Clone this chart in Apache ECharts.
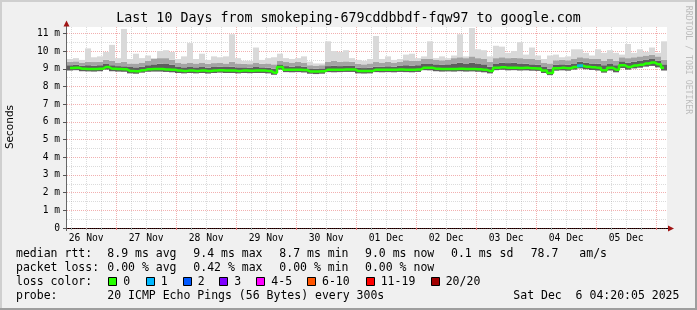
<!DOCTYPE html>
<html>
<head>
<meta charset="utf-8">
<title>smokeping google.com</title>
<script src="https://cdn.jsdelivr.net/npm/echarts@6/dist/echarts.min.js"></script>
<style>
    html, body { margin: 0; padding: 0; background: #f0f0f0; }
    #chart { width: 697px; height: 310px; }
</style>
</head>
<body>
<div id="chart"></div>
<script>
document.addEventListener('DOMContentLoaded', function() {

    const chartDom = document.getElementById('chart');
    const myChart = echarts.init(chartDom, null, { renderer: 'canvas' });

    // time window: 10 days ending Sat Dec 6 04:20:05, hours counted from Nov 26 00:00
    const startHour = 4 + 20 / 60 + 5 / 3600;
    const spanHours = 240;
    const dayLabels = ['26 Nov', '27 Nov', '28 Nov', '29 Nov', '30 Nov',
                       '01 Dec', '02 Dec', '03 Dec', '04 Dec', '05 Dec'];
    const yTicks = [0, 1, 2, 3, 4, 5, 6, 7, 8, 9, 10, 11];
    const yMax = 11.36;

    // 100 slots of 2.4 h each, values in ms
    const median = [
        9.04, 9.06, 9.00, 8.98, 8.98, 9.00, 9.10, 9.00, 8.98, 8.97,
        8.88, 8.86, 8.92, 8.97, 8.98, 8.98, 8.96, 8.95, 8.90, 8.88,
        8.90, 8.88, 8.90, 8.87, 8.90, 8.92, 8.90, 8.90, 8.88, 8.90,
        8.89, 8.90, 8.90, 8.88, 8.78, 9.10, 8.95, 8.94, 8.95, 8.93,
        8.85, 8.84, 8.86, 8.95, 8.94, 8.95, 8.96, 8.96, 8.88, 8.87,
        8.88, 8.95, 8.94, 8.95, 8.94, 8.96, 8.95, 8.94, 8.96, 9.06,
        9.05, 9.00, 8.98, 8.99, 8.98, 9.00, 8.98, 8.99, 8.97, 8.94,
        8.88, 9.06, 9.08, 9.05, 9.06, 9.04, 9.05, 9.03, 9.02, 8.90,
        8.76, 9.03, 9.05, 9.03, 9.10, 9.17, 9.12, 9.08, 9.05, 8.92,
        9.05, 8.95, 9.20, 9.10, 9.18, 9.22, 9.30, 9.35, 9.25, 9.05
    ];
    const smokeLow = [
        8.90, 8.92, 8.86, 8.85, 8.84, 8.86, 8.95, 8.86, 8.84, 8.83,
        8.74, 8.72, 8.78, 8.83, 8.84, 8.84, 8.82, 8.80, 8.76, 8.74,
        8.76, 8.74, 8.76, 8.73, 8.76, 8.78, 8.76, 8.76, 8.74, 8.76,
        8.75, 8.76, 8.76, 8.74, 8.66, 8.95, 8.81, 8.80, 8.81, 8.79,
        8.72, 8.70, 8.72, 8.81, 8.80, 8.81, 8.82, 8.82, 8.74, 8.73,
        8.74, 8.81, 8.80, 8.81, 8.80, 8.82, 8.81, 8.80, 8.82, 8.92,
        8.91, 8.86, 8.84, 8.85, 8.84, 8.86, 8.84, 8.85, 8.83, 8.80,
        8.74, 8.92, 8.94, 8.91, 8.92, 8.90, 8.91, 8.89, 8.88, 8.76,
        8.64, 8.89, 8.91, 8.89, 8.95, 9.02, 8.97, 8.93, 8.90, 8.78,
        8.90, 8.80, 9.04, 8.95, 9.02, 9.06, 9.12, 9.16, 9.08, 8.90
    ];
    const smokeDark = [
        9.20, 9.22, 9.18, 9.20, 9.18, 9.20, 9.30, 9.20, 9.15, 9.14,
        9.10, 9.08, 9.12, 9.20, 9.25, 9.28, 9.30, 9.22, 9.10, 9.08,
        9.10, 9.08, 9.10, 9.06, 9.10, 9.12, 9.10, 9.12, 9.08, 9.08,
        9.06, 9.10, 9.08, 9.06, 9.00, 9.25, 9.15, 9.12, 9.15, 9.12,
        9.02, 9.00, 9.02, 9.15, 9.18, 9.15, 9.16, 9.16, 9.05, 9.04,
        9.06, 9.12, 9.12, 9.14, 9.12, 9.16, 9.20, 9.18, 9.20, 9.30,
        9.30, 9.25, 9.22, 9.25, 9.30, 9.35, 9.30, 9.35, 9.30, 9.25,
        9.12, 9.30, 9.35, 9.32, 9.35, 9.30, 9.28, 9.25, 9.22, 9.10,
        9.00, 9.22, 9.25, 9.22, 9.30, 9.40, 9.35, 9.30, 9.28, 9.20,
        9.30, 9.20, 9.42, 9.35, 9.40, 9.45, 9.50, 9.55, 9.45, 9.25
    ];
    const smokeMid = [
        9.40, 9.42, 9.35, 9.40, 9.38, 9.40, 9.50, 9.45, 9.35, 9.40,
        9.30, 9.30, 9.35, 9.45, 9.55, 9.60, 9.60, 9.50, 9.35, 9.30,
        9.35, 9.30, 9.35, 9.28, 9.32, 9.35, 9.30, 9.40, 9.30, 9.28,
        9.26, 9.35, 9.28, 9.30, 9.25, 9.45, 9.38, 9.35, 9.40, 9.35,
        9.20, 9.18, 9.20, 9.40, 9.45, 9.40, 9.42, 9.40, 9.28, 9.25,
        9.30, 9.38, 9.35, 9.40, 9.35, 9.40, 9.48, 9.45, 9.45, 9.55,
        9.55, 9.50, 9.48, 9.50, 9.60, 9.65, 9.60, 9.70, 9.60, 9.55,
        9.40, 9.60, 9.65, 9.60, 9.62, 9.60, 9.55, 9.55, 9.50, 9.35,
        9.30, 9.48, 9.50, 9.48, 9.55, 9.65, 9.60, 9.55, 9.55, 9.45,
        9.55, 9.45, 9.65, 9.60, 9.65, 9.70, 9.75, 9.80, 9.70, 9.50
    ];
    const smokeMax = [
        9.55, 9.60, 9.50, 10.15, 9.65, 9.70, 9.95, 10.35, 9.60, 11.25,
        9.55, 9.85, 9.60, 9.75, 9.60, 10.00, 10.05, 9.95, 9.55, 9.70,
        10.45, 9.55, 9.85, 9.50, 9.70, 9.65, 9.70, 10.95, 9.60, 9.45,
        9.45, 10.20, 9.50, 9.60, 9.65, 9.85, 9.60, 9.55, 9.60, 9.70,
        9.40, 9.30, 9.30, 10.55, 10.00, 9.95, 10.05, 9.60, 9.50, 9.45,
        9.55, 10.85, 9.55, 9.70, 9.50, 9.55, 9.80, 9.85, 9.60, 9.70,
        10.55, 9.60, 9.70, 9.60, 9.75, 10.95, 9.70, 11.30, 10.10, 10.05,
        9.70, 10.30, 10.25, 9.90, 10.00, 10.50, 9.80, 10.20, 9.75, 9.55,
        9.75, 9.80, 9.65, 9.70, 10.10, 10.10, 9.90, 9.75, 10.10, 9.90,
        10.05, 9.90, 9.80, 10.40, 9.90, 10.10, 9.95, 10.20, 9.90, 10.55
    ];
    // lost pings per slot (of 20)
    const lossPings = [
        0, 0, 0, 0, 0, 0, 0, 0, 0, 0,
        0, 0, 0, 0, 0, 0, 0, 0, 0, 0,
        0, 0, 0, 0, 0, 0, 0, 0, 0, 0,
        0, 0, 0, 0, 0, 0, 0, 0, 0, 0,
        0, 0, 0, 0, 0, 0, 0, 0, 0, 0,
        0, 0, 0, 0, 0, 0, 0, 0, 0, 0,
        0, 0, 0, 0, 0, 0, 0, 0, 0, 0,
        0, 0, 0, 0, 0, 0, 0, 0, 0, 0,
        0, 0, 0, 0, 0, 1, 0, 0, 0, 0,
        0, 0, 0, 0, 0, 0, 0, 0, 0, 0
    ];

    const lossLabels = ['0', '1', '2', '3', '4-5', '6-10', '11-19', '20/20'];
    const lossColors = ['#26ff00', '#00b8ff', '#0059ff', '#7e00ff', '#ff00ff', '#ff5500', '#ff0000', '#a10000'];
    const lossUpper = [0, 1, 2, 3, 5, 10, 19, 20];

    const rttStats = ['8.9 ms avg', '9.4 ms max', '8.7 ms min', '9.0 ms now', '0.1 ms sd'];
    const lossStats = ['0.00 % avg', '0.42 % max', '0.00 % min', '0.00 % now'];
    const amsValue = '78.7';
    const probeText = '20 ICMP Echo Pings (56 Bytes) every 300s';
    const dateText = 'Sat Dec  6 04:20:05 2025';
    const titleText = 'Last 10 Days from smokeping-679cddbbdf-fqw97 to google.com';

    // grid lines / labels positions (hours)
    const minorHours = [], majorHours = [], noonHours = [];
    for (let h = 6; h < startHour + spanHours; h += 6) {
        if (h <= startHour) continue;
        if (h % 24 === 0) majorHours.push(h); else minorHours.push(h);
    }
    dayLabels.forEach((d, i) => noonHours.push(12 + 24 * i));
    const yMinor = yTicks.slice(0, -1).map(v => v + 0.5);

    const mono = 'DejaVu Sans Mono';
    const gridLeft = 67, gridTop = 27, gridW = 600, gridH = 201;
    const gridBottom = gridTop + gridH;

    const lossColorFor = n => lossColors[lossUpper.findIndex(u => n <= u)];
    const lossPoints = [];
    lossPings.forEach((n, i) => {
        if (n > 0) lossPoints.push({ value: [i, median[i]], itemStyle: { color: lossColorFor(n) } });
    });

    const slots = median.map((_, i) => i);
    const diff = (a, b) => a.map((v, i) => +(v - b[i]).toFixed(3));

    // legend / decoration graphics
    const graphics = [];
    const txt = (x, y, text, extra) => Object.assign({
        type: 'text', x: x, y: y, silent: true,
        style: Object.assign({ text: text, font: '11.5px "' + mono + '"', fill: '#000',
            align: 'left', verticalAlign: 'middle', textAlign: 'left', textVerticalAlign: 'middle' }, extra || {})
    });

    // frame shading
    graphics.push({ type: 'rect', shape: { x: 0, y: 0, width: 697, height: 2 }, style: { fill: '#cfcfcf' } });
    graphics.push({ type: 'rect', shape: { x: 0, y: 0, width: 2, height: 310 }, style: { fill: '#cfcfcf' } });
    graphics.push({ type: 'rect', shape: { x: 0, y: 308, width: 697, height: 2 }, style: { fill: '#9e9e9e' } });
    graphics.push({ type: 'rect', shape: { x: 695, y: 0, width: 2, height: 310 }, style: { fill: '#9e9e9e' } });

    graphics.push(txt(348.5, 19, titleText, { font: '13.3px "' + mono + '"', align: 'center', textAlign: 'center' }));
    graphics.push({
        type: 'text', x: 10, y: 127, rotation: Math.PI / 2, silent: true,
        style: { text: 'Seconds', font: '10.5px "DejaVu Sans"', fill: '#000',
            align: 'center', verticalAlign: 'middle', textAlign: 'center', textVerticalAlign: 'middle' }
    });
    graphics.push({
        type: 'text', x: 688.5, y: 60, rotation: -Math.PI / 2, silent: true,
        style: { text: 'RRDTOOL / TOBI OETIKER', font: '8.2px "' + mono + '"', fill: '#bdbdbd',
            align: 'center', verticalAlign: 'middle', textAlign: 'center', textVerticalAlign: 'middle' }
    });

    // axes lines + arrows
    graphics.push({ type: 'line', silent: true, shape: { x1: 66.5, y1: gridBottom + 3, x2: 66.5, y2: 24 },
        style: { stroke: '#666', lineWidth: 1 } });
    graphics.push({ type: 'line', silent: true, shape: { x1: 63, y1: gridBottom + 0.5, x2: 669, y2: gridBottom + 0.5 },
        style: { stroke: '#000', lineWidth: 1 } });
    graphics.push({ type: 'polygon', silent: true, shape: { points: [[63.5, 26.5], [66.5, 20.5], [69.5, 26.5]] },
        style: { fill: '#a01515' } });
    graphics.push({ type: 'polygon', silent: true,
        shape: { points: [[668, gridBottom - 2.5], [674, gridBottom + 0.5], [668, gridBottom + 3.5]] },
        style: { fill: '#a01515' } });

    const statCols = [107.3, 193.3, 279.3, 365, 451];
    const rows = [254.3, 268.3, 282.3, 296];
    graphics.push(txt(16, rows[0], 'median rtt:'));
    rttStats.forEach((s, i) => graphics.push(txt(statCols[i], rows[0], s)));
    graphics.push(txt(530.7, rows[0], amsValue));
    graphics.push(txt(579.3, rows[0], 'am/s'));

    graphics.push(txt(16, rows[1], 'packet loss:'));
    lossStats.forEach((s, i) => graphics.push(txt(statCols[i], rows[1], s)));

    graphics.push(txt(16, rows[2], 'loss color:'));
    const boxX = [108.3, 145.7, 182.7, 219.3, 256.3, 307, 365.7, 430.7];
    lossLabels.forEach((l, i) => {
        graphics.push({ type: 'rect', silent: true,
            shape: { x: Math.round(boxX[i]) + 0.5, y: rows[2] - 4.8, width: 8, height: 8 },
            style: { fill: lossColors[i], stroke: '#000', lineWidth: 1 } });
        graphics.push(txt(boxX[i] + 15, rows[2], l));
    });

    graphics.push(txt(16, rows[3], 'probe:'));
    graphics.push(txt(107.3, rows[3], probeText));
    graphics.push(txt(513.3, rows[3], dateText));

    const redGrid = { color: 'rgba(222,48,48,0.38)', width: 1, type: [1, 1] };
    const greyGrid = { color: 'rgba(143,143,143,0.32)', width: 1, type: [1, 1] };

    const option = {
        animation: false,
        backgroundColor: '#f0f0f0',
        grid: {
            left: gridLeft, top: gridTop, width: gridW, height: gridH,
            show: true, backgroundColor: '#ffffff', borderWidth: 0,
            containLabel: false, outerBoundsMode: 'none'
        },
        xAxis: [
            { type: 'category', data: slots, show: false, boundaryGap: true },
            {
                type: 'value', min: startHour, max: startHour + spanHours, position: 'bottom',
                axisLine: { show: false },
                axisTick: { show: true, customValues: minorHours, length: 2, lineStyle: { color: '#aaa' } },
                axisLabel: { show: false },
                splitLine: { show: true, lineStyle: greyGrid }
            },
            {
                type: 'value', min: startHour, max: startHour + spanHours, position: 'bottom',
                axisLine: { show: false },
                axisTick: { show: true, customValues: majorHours, length: 2, lineStyle: { color: '#e08080' } },
                axisLabel: {
                    customValues: noonHours, margin: 5,
                    fontFamily: mono, fontSize: 9.7, color: '#000',
                    formatter: v => dayLabels[Math.round((v - 12) / 24)]
                },
                splitLine: { show: true, lineStyle: redGrid }
            }
        ],
        yAxis: [
            {
                type: 'value', min: 0, max: yMax, position: 'left',
                axisLine: { show: false },
                axisTick: { show: false, customValues: yMinor },
                axisLabel: { show: false },
                splitLine: { show: true, lineStyle: greyGrid }
            },
            {
                type: 'value', min: 0, max: yMax, position: 'left',
                axisLine: { show: false },
                axisTick: { show: true, customValues: yTicks, length: 4, lineStyle: { color: '#555' } },
                axisLabel: {
                    customValues: yTicks, margin: 7,
                    fontFamily: mono, fontSize: 9.6, color: '#000',
                    formatter: v => (v === 0 ? '0' : v + ' m')
                },
                splitLine: { show: true, lineStyle: redGrid }
            }
        ],
        series: [
            {
                name: 'base', type: 'bar', stack: 'smoke', xAxisIndex: 0, yAxisIndex: 1,
                data: smokeLow, barCategoryGap: '0%', silent: true,
                itemStyle: { color: 'rgba(0,0,0,0)' }
            },
            {
                name: 'dark', type: 'bar', stack: 'smoke', xAxisIndex: 0, yAxisIndex: 1,
                data: diff(smokeDark, smokeLow), silent: true,
                itemStyle: { color: '#5e5e5e' }
            },
            {
                name: 'mid', type: 'bar', stack: 'smoke', xAxisIndex: 0, yAxisIndex: 1,
                data: diff(smokeMid, smokeDark), silent: true,
                itemStyle: { color: '#a4a4a4' }
            },
            {
                name: 'light', type: 'bar', stack: 'smoke', xAxisIndex: 0, yAxisIndex: 1,
                data: diff(smokeMax, smokeMid), silent: true,
                itemStyle: { color: '#d9d9d9' }
            },
            {
                name: 'median rtt', type: 'line', xAxisIndex: 0, yAxisIndex: 1,
                data: median, step: 'middle', showSymbol: false, silent: true, z: 5,
                lineStyle: { color: lossColors[0], width: 2.5 }
            },
            {
                name: 'loss', type: 'scatter', xAxisIndex: 0, yAxisIndex: 1,
                data: lossPoints, symbol: 'rect', symbolSize: [6, 3], silent: true, z: 6
            }
        ],
        graphic: graphics
    };

    myChart.setOption(option);

    window.addEventListener('resize', function() {
        myChart.resize();
    });
});
</script>
</body>
</html>
